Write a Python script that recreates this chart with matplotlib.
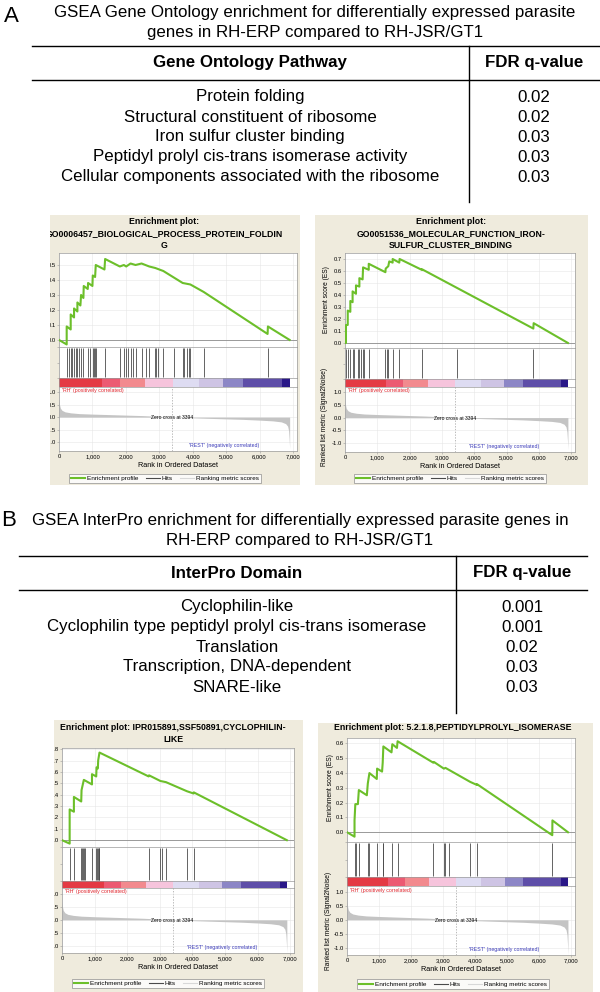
import matplotlib
matplotlib.use('Agg')
import matplotlib.pyplot as plt
from matplotlib.patches import Rectangle
from matplotlib.lines import Line2D

plt.rcParams['font.family'] = ['Liberation Sans', 'DejaVu Sans']

W, H = 600, 992

# ---- tables ----
go_title = ['GSEA Gene Ontology enrichment for differentially expressed parasite',
            'genes in RH-ERP compared to RH-JSR/GT1']
go_header = ['Gene Ontology Pathway', 'FDR q-value']
go_pathways = ['Protein folding',
               'Structural constituent of ribosome',
               'Iron sulfur cluster binding',
               'Peptidyl prolyl cis-trans isomerase activity',
               'Cellular components associated with the ribosome']
go_fdr = ['0.02', '0.02', '0.03', '0.03', '0.03']

ipr_title = ['GSEA InterPro enrichment for differentially expressed parasite genes in',
             'RH-ERP compared to RH-JSR/GT1']
ipr_header = ['InterPro Domain', 'FDR q-value']
ipr_domains = ['Cyclophilin-like',
               'Cyclophilin type peptidyl prolyl cis-trans isomerase',
               'Translation',
               'Transcription, DNA-dependent',
               'SNARE-like']
ipr_fdr = ['0.001', '0.001', '0.02', '0.03', '0.03']

# ---- ranked list (same dataset in every enrichment plot) ----
metric_rank = [0, 15, 40, 90, 180, 350, 600, 1000, 1500, 2000, 2500, 3000, 3394,
               4000, 4500, 5000, 5500, 6000, 6400, 6650, 6780, 6840, 6870, 6885, 6900]
metric_score = [0.72, 0.5, 0.36, 0.27, 0.21, 0.17, 0.14, 0.12, 0.1, 0.08, 0.06, 0.03, 0.0,
                -0.03, -0.05, -0.07, -0.09, -0.12, -0.15, -0.19, -0.26, -0.36, -0.55, -0.85, -1.25]
zero_cross = 3394
bar_edges = [0, 1280, 1810, 2570, 3400, 4200, 4920, 5500, 6680, 6900]
bar_colors = ['#e43a44', '#ec5a72', '#f28a8e', '#f6c4dc', '#dedcf2',
              '#cec4e4', '#8c86c6', '#5e4ea8', '#2a1888']
rank_ticks = [0, 1000, 2000, 3000, 4000, 5000, 6000, 7000]
rank_labels = ['0', '1,000', '2,000', '3,000', '4,000', '5,000', '6,000', '7,000']

# ---- enrichment profiles ----
fold_title = ['Enrichment plot:', 'GO0006457_BIOLOGICAL_PROCESS_PROTEIN_FOLDIN', 'G']
fold_hits = [230, 300, 350, 400, 450, 500, 550, 600, 660, 730, 865, 915, 1005, 1045, 1085,
             1115, 1370, 1820, 1940, 2010, 2070, 2140, 2210, 2290, 2470, 2615, 2695, 2875,
             2915, 2975, 3120, 3450, 3700, 3750, 3820, 3880, 3930, 4335, 6245]
fold_es_rank = [0, 230, 230, 350, 350, 450, 450, 550, 550, 640, 660, 730, 740, 860, 870,
                1000, 1010, 1080, 1100, 1360, 1380, 1820, 1940, 2010, 2140, 2290, 2470,
                2700, 2880, 3120, 3700, 3930, 4330, 6240, 6250, 6900]
fold_es = [0.0, -0.03, 0.09, 0.07, 0.17, 0.15, 0.21, 0.19, 0.25, 0.23, 0.30, 0.28, 0.36,
           0.34, 0.38, 0.36, 0.43, 0.42, 0.50, 0.47, 0.54, 0.49, 0.50, 0.49, 0.51, 0.50,
           0.51, 0.49, 0.48, 0.46, 0.38, 0.37, 0.32, 0.04, 0.09, 0.0]

iron_title = ['Enrichment plot:', 'GO0051536_MOLECULAR_FUNCTION_IRON-', 'SULFUR_CLUSTER_BINDING']
iron_hits = [30, 85, 165, 235, 290, 390, 445, 495, 545, 580, 735, 1250, 1300, 1340, 1475,
             1680, 2375, 3470, 5830]
iron_es_rank = [0, 30, 30, 85, 85, 165, 165, 235, 235, 340, 340, 445, 445, 545, 560, 735,
                735, 1250, 1260, 1340, 1370, 1475, 1475, 1680, 1690, 2375, 2380, 5830, 5840, 6900]
iron_es = [0.0, 0.0, 0.15, 0.15, 0.27, 0.26, 0.35, 0.34, 0.43, 0.41, 0.48, 0.47, 0.54, 0.53,
           0.63, 0.61, 0.66, 0.59, 0.62, 0.64, 0.68, 0.67, 0.70, 0.67, 0.70, 0.61, 0.615,
           0.12, 0.165, 0.0]

cyclo_title = ['Enrichment plot: IPR015891,SSF50891,CYCLOPHILIN-', 'LIKE']
cyclo_hits = [235, 365, 590, 620, 650, 670, 695, 920, 1050, 1080, 1100, 1130, 1150, 2660,
              3020, 3060, 3190, 3835, 4040]
cyclo_es_rank = [0, 235, 235, 365, 365, 590, 600, 670, 920, 920, 1050, 1060, 1100, 1110,
                 1150, 2660, 2670, 3020, 3190, 3835, 4040, 4045, 6900]
cyclo_es = [0.0, -0.03, 0.27, 0.25, 0.38, 0.34, 0.44, 0.53, 0.49, 0.58, 0.56, 0.64, 0.63,
            0.70, 0.77, 0.56, 0.57, 0.52, 0.51, 0.43, 0.41, 0.42, 0.0]

ppi_title = ['Enrichment plot: 5.2.1.8,PEPTIDYLPROLYL_ISOMERASE']
ppi_hits = [235, 290, 370, 650, 700, 930, 1115, 1135, 1390, 1580, 2695, 3025, 3055, 3200,
            3850, 4055, 6410]
ppi_es_rank = [0, 235, 235, 260, 340, 370, 620, 650, 700, 930, 940, 1095, 1115, 1135, 1390,
               1415, 1560, 1580, 2695, 2715, 3025, 3075, 3850, 4055, 4060, 6410, 6415, 6900]
ppi_es = [0.0, -0.03, 0.08, 0.19, 0.19, 0.285, 0.25, 0.33, 0.40, 0.36, 0.43, 0.41, 0.47,
          0.58, 0.54, 0.595, 0.57, 0.615, 0.47, 0.475, 0.43, 0.435, 0.34, 0.32, 0.325,
          -0.02, 0.08, 0.0]

BEIGE = '#efebdd'
GREEN = '#6cbf2a'
SPINE = '#9a9a9a'
GRID = '#e6e6e6'
TABLE_FS = 12.2


def fig_y(y):
    return 1 - y / H


def px_axes(fig, x0, y0, x1, y1):
    return fig.add_axes([x0 / W, fig_y(y1), (x1 - x0) / W, (y1 - y0) / H])


def ftext(fig, x, y, s, **kw):
    return fig.text(x / W, fig_y(y), s, **kw)


def hline(fig, x0, x1, y):
    fig.add_artist(Line2D([x0 / W, x1 / W], [fig_y(y), fig_y(y)], transform=fig.transFigure,
                          color='black', lw=1.0))


def vline(fig, x, y0, y1):
    fig.add_artist(Line2D([x / W, x / W], [fig_y(y0), fig_y(y1)], transform=fig.transFigure,
                          color='black', lw=1.0))


def draw_table(fig, letter, letter_xy, title, title_x, title_ys, header, items, fdr,
               left, right, top, head_line, div_x, div_bottom, item_x, fdr_x, rows_y):
    ftext(fig, letter_xy[0], letter_xy[1], letter, fontsize=16, ha='center', va='center')
    for line, y in zip(title, title_ys):
        ftext(fig, title_x, y, line, fontsize=TABLE_FS, ha='center', va='center')
    hline(fig, left, right, top)
    hline(fig, left, right, head_line)
    vline(fig, div_x, top, div_bottom)
    head_y = (top + head_line) / 2
    ftext(fig, item_x, head_y, header[0], fontsize=TABLE_FS, weight='bold',
          ha='center', va='center')
    ftext(fig, fdr_x, head_y, header[1], fontsize=TABLE_FS, weight='bold',
          ha='center', va='center')
    for name, q, y in zip(items, fdr, rows_y):
        ftext(fig, item_x, y, name, fontsize=TABLE_FS, ha='center', va='center')
        ftext(fig, fdr_x, y, q, fontsize=TABLE_FS, ha='center', va='center')


def style(ax):
    for s in ax.spines.values():
        s.set_color(SPINE)
        s.set_linewidth(0.5)
    ax.tick_params(length=1.5, width=0.4, color=SPINE, labelsize=4.2, pad=1)


def gsea_panel(fig, lay, title, hits, es_rank, es, es_lim, es_ticks, met_lim):
    fx0, fy0, fx1, fy1 = lay['frame']
    fig.add_artist(Rectangle((fx0 / W, fig_y(fy1)), (fx1 - fx0) / W, (fy1 - fy0) / H,
                             transform=fig.transFigure, facecolor=BEIGE, edgecolor='none',
                             zorder=-1))
    for line, y in zip(title, lay['title_y']):
        ftext(fig, lay['title_x'], y, line, fontsize=6.3, weight='bold', ha='center', va='center')
    x0, x1 = lay['x']
    xlim = (0, 7120)

    # running enrichment score
    ax = px_axes(fig, x0, lay['es'][0], x1, lay['es'][1])
    ax.plot(es_rank, es, color=GREEN, lw=1.5, zorder=3)
    ax.axhline(0, color='#8c8c8c', lw=0.6)
    ax.set_xlim(xlim)
    ax.set_ylim(es_lim)
    ax.set_xticks(rank_ticks)
    ax.set_xticklabels([])
    ax.set_yticks(es_ticks)
    ax.set_yticklabels(['%.1f' % t for t in es_ticks])
    ax.grid(color=GRID, lw=0.4)
    ax.tick_params(axis='x', length=0)
    style(ax)

    # hits
    ax = px_axes(fig, x0, lay['hits'][0], x1, lay['hits'][1])
    ax.vlines(hits, 0.03, 0.97, color='#4a4a4a', lw=0.6)
    ax.set_xlim(xlim)
    ax.set_ylim(0, 1)
    ax.set_xticks(rank_ticks)
    ax.grid(axis='x', color=GRID, lw=0.4)
    ax.tick_params(length=0, labelbottom=False, labelleft=False)
    style(ax)

    # colour bar
    ax = px_axes(fig, x0, lay['bar'][0], x1, lay['bar'][1])
    for a, b, c in zip(bar_edges[:-1], bar_edges[1:], bar_colors):
        ax.axvspan(a, b, color=c, lw=0)
    ax.set_xlim(xlim)
    ax.set_xticks([])
    ax.set_yticks([])
    style(ax)

    # ranked list metric
    ax = px_axes(fig, x0, lay['met'][0], x1, lay['met'][1])
    ax.fill_between(metric_rank, metric_score, 0, color='#c4c4c4', lw=0, zorder=2)
    ax.axvline(zero_cross, color='#a0a0a0', lw=0.5, ls=(0, (2, 2)), zorder=1)
    ax.text(zero_cross, -0.02, 'Zero cross at %d' % zero_cross, fontsize=3.6,
            ha='center', va='center', zorder=3)
    ax.text(80, met_lim[1] - 0.15, "'RH' (positively correlated)", fontsize=3.8,
            color='#e0262e', ha='left', va='center')
    ax.text(6000, met_lim[0] + 0.2, "'REST' (negatively correlated)", fontsize=3.8,
            color='#3a3ab8', ha='right', va='center')
    ax.set_xlim(xlim)
    ax.set_ylim(met_lim)
    ax.set_xticks(rank_ticks)
    ax.set_xticklabels(rank_labels)
    ax.set_yticks([-1.0, -0.5, 0.0, 0.5, 1.0])
    ax.set_yticklabels(['-1.0', '-0.5', '0.0', '0.5', '1.0'])
    ax.grid(color=GRID, lw=0.4)
    ax.set_xlabel('Rank in Ordered Dataset', fontsize=5.2, labelpad=1.5)
    style(ax)

    if lay['ylabels']:
        ex, ey = lay['es_label']
        ftext(fig, ex, ey, 'Enrichment score (ES)', fontsize=4.8, rotation=90,
              ha='center', va='center')
        mx, my = lay['met_label']
        ftext(fig, mx, my, 'Ranked list metric (Signal2Noise)', fontsize=4.8, rotation=90,
              ha='center', va='center')
    else:
        # the left-hand plots are cut at the frame edge in the figure
        fig.add_artist(Rectangle((0, fig_y(fy1)), fx0 / W, (fy1 - fy0) / H,
                                 transform=fig.transFigure, facecolor='white',
                                 edgecolor='none', zorder=20))

    handles = [Line2D([], [], color=GREEN, lw=1.5),
               Line2D([], [], color='#4a4a4a', lw=0.8),
               Line2D([], [], color='#d8d8d8', lw=0.8)]
    cx, cy = lay['legend']
    leg = fig.legend(handles, ['Enrichment profile', 'Hits', 'Ranking metric scores'],
                     loc='center', bbox_to_anchor=(cx / W, fig_y(cy)), ncol=3, fontsize=4.6,
                     frameon=True, fancybox=False, borderpad=0.3, handlelength=2.2,
                     handletextpad=0.3, columnspacing=1.2)
    leg.get_frame().set_edgecolor('#777777')
    leg.get_frame().set_linewidth(0.5)


fig = plt.figure(figsize=(6, 9.92), dpi=100)

draw_table(fig, 'A', (11, 16), go_title, 315, [12, 32], go_header, go_pathways, go_fdr,
           left=32, right=600, top=46, head_line=80, div_x=469, div_bottom=202,
           item_x=250, fdr_x=534, rows_y=[97, 117, 137, 157, 177])

draw_table(fig, 'B', (9, 521), ipr_title, 300, [520, 541], ipr_header, ipr_domains, ipr_fdr,
           left=19, right=587, top=556, head_line=590, div_x=456, div_bottom=713,
           item_x=237, fdr_x=522, rows_y=[607, 627, 647, 667, 687])

fold_lay = dict(frame=(50, 215, 300, 485), title_x=164, title_y=[222, 234, 245],
                x=(59, 297), es=(253, 347), hits=(347, 378), bar=(378, 387), met=(387, 451),
                legend=(165, 478.5), ylabels=False)
iron_lay = dict(frame=(315, 215, 588, 485), title_x=451, title_y=[222, 234, 245],
                x=(345, 575), es=(253, 348), hits=(348, 379), bar=(379, 387), met=(387, 452),
                legend=(450, 478.5), ylabels=True, es_label=(327, 300), met_label=(325, 417))
cyclo_lay = dict(frame=(54, 720, 303, 992), title_x=173, title_y=[727, 740],
                 x=(62, 294), es=(748, 847), hits=(847, 881), bar=(881, 888), met=(888, 953),
                 legend=(168, 983.5), ylabels=False)
ppi_lay = dict(frame=(318, 723, 593, 992), title_x=453, title_y=[728],
               x=(347, 575), es=(738, 842), hits=(842, 877), bar=(877, 886), met=(886, 955),
               legend=(453, 984), ylabels=True, es_label=(330, 788), met_label=(329, 921))

gsea_panel(fig, fold_lay, fold_title, fold_hits, fold_es_rank, fold_es, (-0.047, 0.58),
           [0.0, 0.1, 0.2, 0.3, 0.4, 0.5], (-1.35, 1.2))
gsea_panel(fig, iron_lay, iron_title, iron_hits, iron_es_rank, iron_es, (-0.042, 0.75),
           [0.0, 0.1, 0.2, 0.3, 0.4, 0.5, 0.6, 0.7], (-1.35, 1.2))
gsea_panel(fig, cyclo_lay, cyclo_title, cyclo_hits, cyclo_es_rank, cyclo_es, (-0.06, 0.81),
           [0.0, 0.1, 0.2, 0.3, 0.4, 0.5, 0.6, 0.7, 0.8], (-1.27, 1.22))
gsea_panel(fig, ppi_lay, ppi_title, ppi_hits, ppi_es_rank, ppi_es, (-0.066, 0.637),
           [0.0, 0.1, 0.2, 0.3, 0.4, 0.5, 0.6], (-1.27, 1.22))

fig.savefig('out.png', dpi=100)
